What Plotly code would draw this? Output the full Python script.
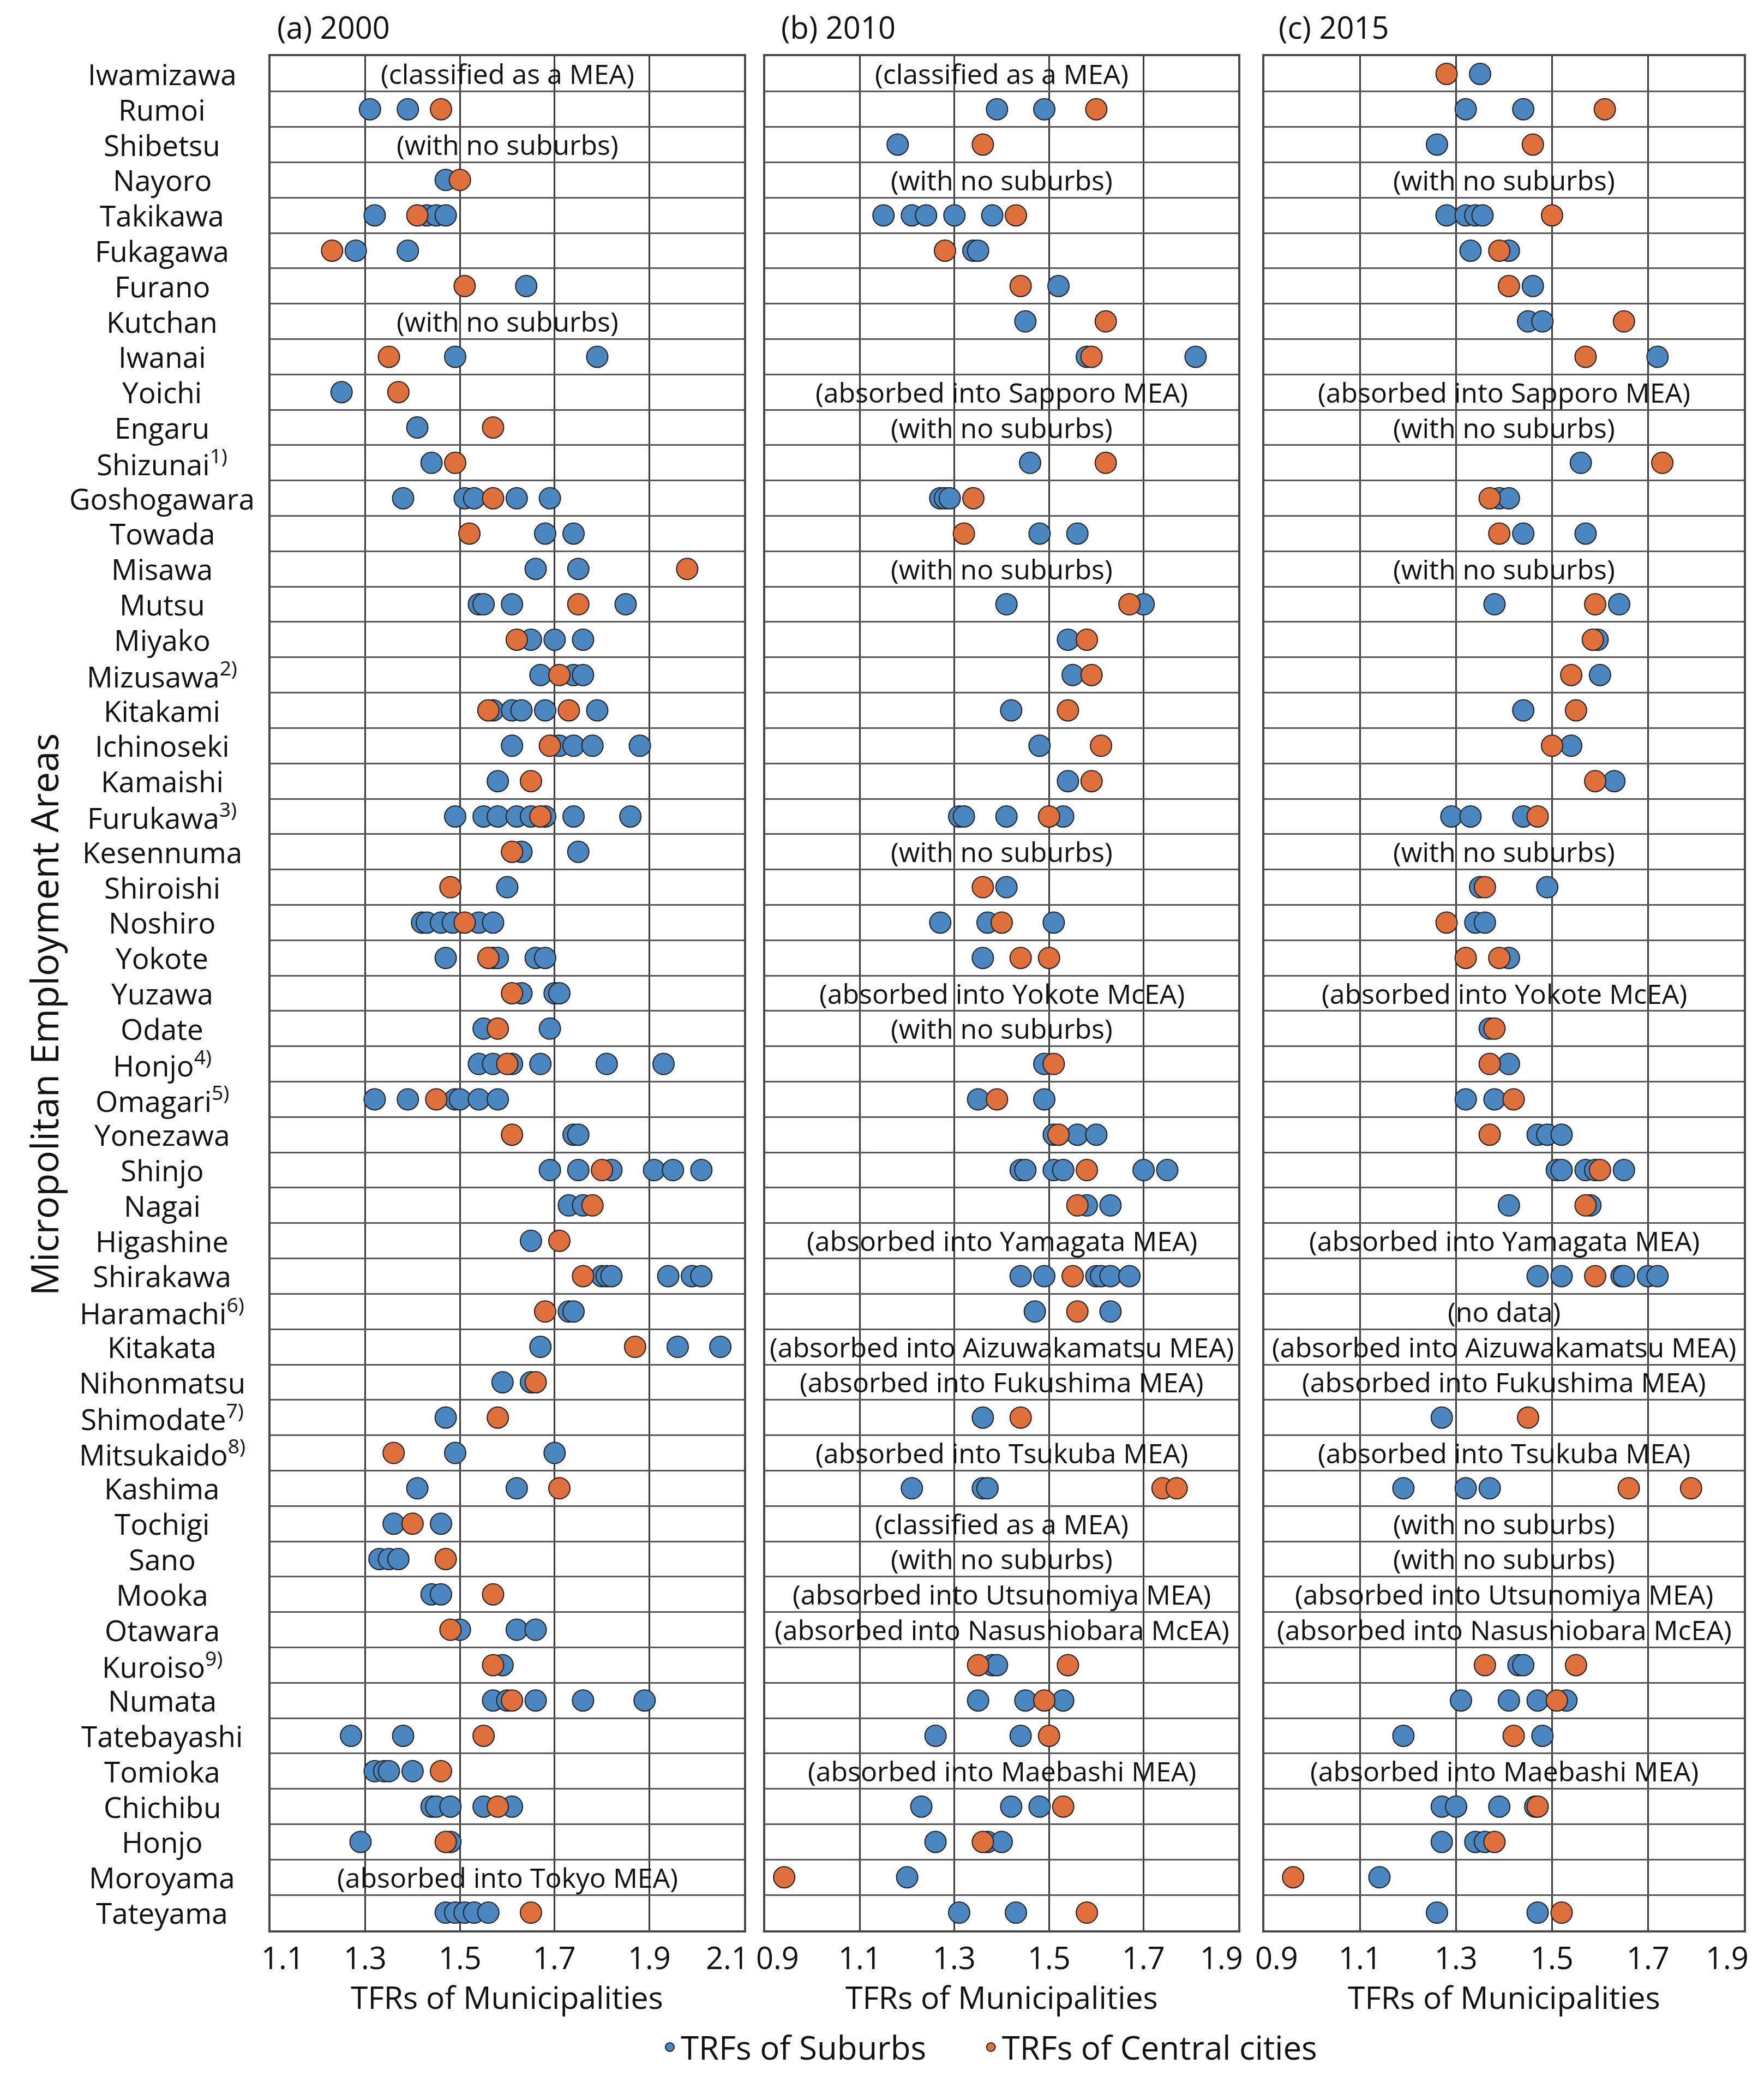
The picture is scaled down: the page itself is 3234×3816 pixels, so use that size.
import plotly.graph_objects as go

W, H = 3234, 3816

areas = ["Iwamizawa", "Rumoi", "Shibetsu", "Nayoro", "Takikawa", "Fukagawa", "Furano", "Kutchan",
         "Iwanai", "Yoichi", "Engaru", "Shizunai<sup>1)</sup>", "Goshogawara", "Towada", "Misawa",
         "Mutsu", "Miyako", "Mizusawa<sup>2)</sup>", "Kitakami", "Ichinoseki", "Kamaishi",
         "Furukawa<sup>3)</sup>", "Kesennuma", "Shiroishi", "Noshiro", "Yokote", "Yuzawa", "Odate",
         "Honjo<sup>4)</sup>", "Omagari<sup>5)</sup>", "Yonezawa", "Shinjo", "Nagai", "Higashine",
         "Shirakawa", "Haramachi<sup>6)</sup>", "Kitakata", "Nihonmatsu", "Shimodate<sup>7)</sup>",
         "Mitsukaido<sup>8)</sup>", "Kashima", "Tochigi", "Sano", "Mooka", "Otawara",
         "Kuroiso<sup>9)</sup>", "Numata", "Tatebayashi", "Tomioka", "Chichibu", "Honjo",
         "Moroyama", "Tateyama"]

panel_titles = ["(a) 2000", "(b) 2010", "(c) 2015"]
x_ticks_a = [1.1, 1.3, 1.5, 1.7, 1.9, 2.1]
x_ticks_bc = [0.9, 1.1, 1.3, 1.5, 1.7, 1.9]

# ---- (a) 2000 ----
sub_2000 = [[], [1.31, 1.39], [], [1.47], [1.32, 1.43, 1.45, 1.47], [1.28, 1.39], [1.64], [],
            [1.49, 1.79], [1.25], [1.41], [1.44], [1.38, 1.51, 1.53, 1.62, 1.69], [1.68, 1.74],
            [1.66, 1.75], [1.54, 1.55, 1.61, 1.85], [1.65, 1.70, 1.76], [1.67, 1.74, 1.76],
            [1.57, 1.61, 1.63, 1.68, 1.79], [1.61, 1.71, 1.74, 1.78, 1.88], [1.58],
            [1.49, 1.55, 1.58, 1.62, 1.65, 1.68, 1.74, 1.86], [1.63, 1.75], [1.60],
            [1.42, 1.43, 1.46, 1.485, 1.54, 1.57], [1.47, 1.57, 1.58, 1.66, 1.68], [1.63, 1.70, 1.71],
            [1.55, 1.69], [1.54, 1.57, 1.61, 1.67, 1.81, 1.93], [1.32, 1.39, 1.49, 1.50, 1.54, 1.58],
            [1.74, 1.75], [1.69, 1.75, 1.82, 1.91, 1.95, 2.01], [1.73, 1.76], [1.65],
            [1.80, 1.81, 1.82, 1.94, 1.99, 2.01], [1.73, 1.74], [1.67, 1.96, 2.05], [1.59, 1.65],
            [1.47], [1.49, 1.70], [1.41, 1.62], [1.36, 1.46], [1.33, 1.35, 1.37], [1.44, 1.46],
            [1.50, 1.62, 1.66], [1.59], [1.57, 1.60, 1.66, 1.76, 1.89], [1.27, 1.38],
            [1.32, 1.34, 1.35, 1.40], [1.44, 1.45, 1.48, 1.55, 1.61], [1.29, 1.48], [],
            [1.47, 1.49, 1.51, 1.53, 1.56]]
cen_2000 = [[], [1.46], [], [1.50], [1.41], [1.23], [1.51], [], [1.35], [1.37], [1.57], [1.49],
            [1.57], [1.52], [1.98], [1.75], [1.62], [1.71], [1.56, 1.73], [1.69], [1.65], [1.67],
            [1.61], [1.48], [1.51], [1.56], [1.61], [1.58], [1.60], [1.45], [1.61], [1.80], [1.78],
            [1.71], [1.76], [1.68], [1.87], [1.66], [1.58], [1.36], [1.71], [1.40], [1.47], [1.57],
            [1.48], [1.57], [1.61], [1.55], [1.46], [1.58], [1.47], [], [1.65]]
notes_2000 = {0: "(classified as a MEA)", 2: "(with no suburbs)", 7: "(with no suburbs)",
              51: "(absorbed into Tokyo MEA)"}

# ---- (b) 2010 ----
sub_2010 = [[], [1.39, 1.49], [1.18], [], [1.15, 1.21, 1.24, 1.30, 1.38], [1.34, 1.35], [1.52],
            [1.45], [1.58, 1.81], [], [], [1.46], [1.27, 1.28, 1.29], [1.48, 1.56], [], [1.41, 1.70],
            [1.54], [1.55], [1.42], [1.48], [1.54], [1.31, 1.32, 1.41, 1.53], [], [1.41],
            [1.27, 1.37, 1.51], [1.36], [], [], [1.49], [1.35, 1.49], [1.51, 1.56, 1.60],
            [1.44, 1.45, 1.51, 1.53, 1.70, 1.75], [1.58, 1.63], [], [1.44, 1.49, 1.60, 1.61, 1.63, 1.67],
            [1.47, 1.63], [], [], [1.36], [], [1.21, 1.36, 1.37], [], [], [], [], [1.38, 1.39],
            [1.35, 1.45, 1.53], [1.26, 1.44], [], [1.23, 1.42, 1.48], [1.26, 1.37, 1.40], [1.20],
            [1.31, 1.43]]
cen_2010 = [[], [1.60], [1.36], [], [1.43], [1.28], [1.44], [1.62], [1.59], [], [], [1.62], [1.34],
            [1.32], [], [1.67], [1.58], [1.59], [1.54], [1.61], [1.59], [1.50], [], [1.36], [1.40],
            [1.44, 1.50], [], [], [1.51], [1.39], [1.52], [1.58], [1.56], [], [1.55], [1.56], [], [],
            [1.44], [], [1.74, 1.77], [], [], [], [], [1.35, 1.54], [1.49], [1.50], [], [1.53], [1.36],
            [0.94], [1.58]]
notes_2010 = {0: "(classified as a MEA)", 3: "(with no suburbs)", 9: "(absorbed into Sapporo MEA)",
              10: "(with no suburbs)", 14: "(with no suburbs)", 22: "(with no suburbs)",
              26: "(absorbed into Yokote McEA)", 27: "(with no suburbs)",
              33: "(absorbed into Yamagata MEA)", 36: "(absorbed into Aizuwakamatsu MEA)",
              37: "(absorbed into Fukushima MEA)", 39: "(absorbed into Tsukuba MEA)",
              41: "(classified as a MEA)", 42: "(with no suburbs)",
              43: "(absorbed into Utsunomiya MEA)", 44: "(absorbed into Nasushiobara McEA)",
              48: "(absorbed into Maebashi MEA)"}

# ---- (c) 2015 ----
sub_2015 = [[1.35], [1.32, 1.44], [1.26], [], [1.28, 1.32, 1.34, 1.355], [1.33, 1.41], [1.46],
            [1.45, 1.48], [1.72], [], [], [1.56], [1.39, 1.41], [1.44, 1.57], [], [1.38, 1.64],
            [1.595], [1.60], [1.44], [1.54], [1.63], [1.29, 1.33, 1.44], [], [1.35, 1.49],
            [1.34, 1.36], [1.41], [], [1.37], [1.41], [1.32, 1.38], [1.47, 1.49, 1.52],
            [1.51, 1.52, 1.57, 1.59, 1.65], [1.41, 1.58], [], [1.47, 1.52, 1.645, 1.65, 1.70, 1.72],
            [], [], [], [1.27], [], [1.19, 1.32, 1.37], [], [], [], [], [1.43, 1.44],
            [1.31, 1.41, 1.47, 1.53], [1.19, 1.48], [], [1.27, 1.30, 1.39, 1.465],
            [1.27, 1.34, 1.36], [1.14], [1.26, 1.47]]
cen_2015 = [[1.28], [1.61], [1.46], [], [1.50], [1.39], [1.41], [1.65], [1.57], [], [], [1.73],
            [1.37], [1.39], [], [1.59], [1.585], [1.54], [1.55], [1.50], [1.59], [1.47], [], [1.36],
            [1.28], [1.32, 1.39], [], [1.38], [1.37], [1.42], [1.37], [1.60], [1.57], [], [1.59], [],
            [], [], [1.45], [], [1.66, 1.79], [], [], [], [], [1.36, 1.55], [1.51], [1.42], [],
            [1.47], [1.38], [0.96], [1.52]]
notes_2015 = {3: "(with no suburbs)", 9: "(absorbed into Sapporo MEA)", 10: "(with no suburbs)",
              14: "(with no suburbs)", 22: "(with no suburbs)", 26: "(absorbed into Yokote McEA)",
              33: "(absorbed into Yamagata MEA)", 35: "(no data)",
              36: "(absorbed into Aizuwakamatsu MEA)", 37: "(absorbed into Fukushima MEA)",
              39: "(absorbed into Tsukuba MEA)", 41: "(with no suburbs)", 42: "(with no suburbs)",
              43: "(absorbed into Utsunomiya MEA)", 44: "(absorbed into Nasushiobara McEA)",
              48: "(absorbed into Maebashi MEA)"}

series_names = ["TRFs of Suburbs", "TRFs of Central cities"]

panels = [(sub_2000, cen_2000, notes_2000, x_ticks_a),
          (sub_2010, cen_2010, notes_2010, x_ticks_bc),
          (sub_2015, cen_2015, notes_2015, x_ticks_bc)]

BLUE = "#4a87c0"
ORANGE = "#df6f3b"
FONT = "Open Sans"
TXT = "#111111"
n = len(areas)
OFF = 8  # page body margin compensation


def px_x(p):
    return (p - OFF) / W


def px_y(p):
    return 1 - (p - OFF) / H


x_domains = [[px_x(496), px_x(1364)], [px_x(1403), px_x(2270)], [px_x(2318), px_x(3197)]]
y_domain = [px_y(3538), px_y(103)]
title_x = [506, 1430, 2342]

fig = go.Figure()
annotations = []


def flatten(lists):
    xs, ys = [], []
    for i, vals in enumerate(lists):
        for v in vals:
            xs.append(v)
            ys.append(i)
    return xs, ys


for k, (sub, cen, notes, ticks) in enumerate(panels):
    xa = "x" if k == 0 else f"x{k+1}"
    ya = "y" if k == 0 else f"y{k+1}"
    sx, sy = flatten(sub)
    cx, cy = flatten(cen)
    fig.add_trace(go.Scatter(x=sx, y=sy, xaxis=xa, yaxis=ya, mode="markers",
                             name=series_names[0] + "\u00a0" * 6, showlegend=(k == 0),
                             legendgroup="s",
                             marker=dict(size=39, color=BLUE, line=dict(color="#222222", width=2))))
    fig.add_trace(go.Scatter(x=cx, y=cy, xaxis=xa, yaxis=ya, mode="markers",
                             name=series_names[1], showlegend=(k == 0), legendgroup="c",
                             marker=dict(size=39, color=ORANGE, line=dict(color="#222222", width=2))))
    xcenter = (ticks[0] + ticks[-1]) / 2
    for i, txt in notes.items():
        annotations.append(dict(x=xcenter, y=i, xref=xa, yref=ya, text=txt, showarrow=False,
                                xanchor="center", yanchor="middle",
                                font=dict(family=FONT, size=50, color=TXT)))
    # tick labels (end labels nudged inward as in the reference)
    for j, t in enumerate(ticks):
        shift = 0
        if j == 0:
            shift = 22
        elif j == len(ticks) - 1:
            shift = -31
        annotations.append(dict(x=t, y=px_y(3587), xref=xa, yref="paper", text=f"{t:.1f}",
                                showarrow=False, xanchor="center", yanchor="middle", xshift=shift,
                                font=dict(family=FONT, size=56, color=TXT)))
    axkey = "xaxis" if k == 0 else f"xaxis{k+1}"
    aykey = "yaxis" if k == 0 else f"yaxis{k+1}"
    fig.update_layout({
        axkey: dict(domain=x_domains[k], anchor=ya, range=[ticks[0], ticks[-1]],
                    tickvals=ticks, showticklabels=False,
                    showgrid=True, gridcolor="#3a3a3a", gridwidth=3, zeroline=False,
                    showline=True, mirror=True, linecolor="#4a4a4a", linewidth=4, ticks=""),
        aykey: dict(domain=y_domain, anchor=xa, range=[n - 0.5, -0.5],
                    tickvals=[i + 0.5 for i in range(n - 1)], showticklabels=False,
                    showgrid=True, gridcolor="#5a5a5a", gridwidth=3, zeroline=False,
                    showline=True, mirror=True, linecolor="#4a4a4a", linewidth=4, ticks=""),
    })
    # panel title
    annotations.append(dict(x=px_x(title_x[k]), y=px_y(49), xref="paper", yref="paper",
                            text=panel_titles[k], showarrow=False, xanchor="left", yanchor="middle",
                            font=dict(family=FONT, size=56, color=TXT)))
    # x axis title
    annotations.append(dict(x=sum(x_domains[k]) / 2, y=px_y(3660), xref="paper", yref="paper",
                            text="TFRs of Municipalities", showarrow=False, xanchor="center",
                            yanchor="middle", font=dict(family=FONT, size=57, color=TXT)))

# category labels
for i, name in enumerate(areas):
    annotations.append(dict(x=px_x(297), y=i, xref="paper", yref="y", text=name, showarrow=False,
                            xanchor="center", yanchor="middle",
                            font=dict(family=FONT, size=53, color=TXT)))

# y axis title
annotations.append(dict(x=px_x(80), y=px_y(1860), xref="paper", yref="paper",
                        text="Micropolitan Employment Areas", showarrow=False, textangle=-90,
                        xanchor="center", yanchor="middle",
                        font=dict(family=FONT, size=69, color=TXT)))

fig.update_layout(
    width=W, height=H, margin=dict(l=0, r=0, t=0, b=0),
    paper_bgcolor="white", plot_bgcolor="white",
    annotations=annotations,
    legend=dict(orientation="h", x=px_x(1208), y=px_y(3752), xanchor="left", yanchor="middle",
                font=dict(family=FONT, size=60, color=TXT), itemwidth=30,
                bgcolor="rgba(0,0,0,0)"),
)

fig.write_html("out.html")
